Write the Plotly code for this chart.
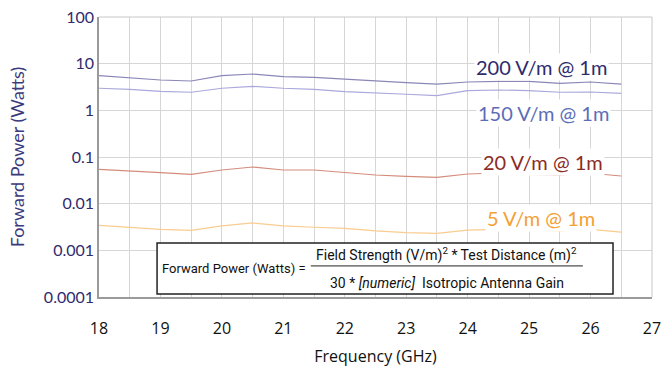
import math
import plotly.graph_objects as go

freq_ghz = [18, 18.5, 19, 19.5, 20, 20.5, 21, 21.5, 22, 22.5, 23, 23.5, 24, 24.5, 25, 25.5, 26, 26.5]

p_200 = [5.52, 5.0, 4.47, 4.25, 5.52, 6.0, 5.26, 5.1, 4.62, 4.25, 3.91, 3.66, 4.05, 4.19, 4.19, 3.79, 4.05, 3.66]
p_150 = [2.97, 2.82, 2.56, 2.44, 2.97, 3.27, 2.97, 2.82, 2.51, 2.32, 2.21, 2.06, 2.64, 2.73, 2.64, 2.44, 2.47, 2.32]
p_20 = [0.0545, 0.0509, 0.0461, 0.0426, 0.0527, 0.0611, 0.0527, 0.0527, 0.047, 0.0411, 0.0386, 0.0367, 0.0432, 0.0454, 0.0426, 0.0411, 0.0448, 0.0392]
p_5 = [0.00344, 0.00312, 0.00282, 0.00269, 0.00333, 0.00386, 0.00333, 0.00312, 0.00296, 0.0026, 0.0024, 0.0023, 0.0027, 0.0028, 0.00265, 0.0026, 0.0028, 0.00245]

series_names = ["200 V/m @ 1m", "150 V/m @ 1m", "20 V/m @ 1m", "5 V/m @ 1m"]
line_colors = ["#8a87b8", "#aaa8dc", "#d48c7c", "#f9cc90"]
label_colors = ["#2e2b6e", "#5c6db8", "#8c2b1f", "#f5a033"]

x_ticks = [18, 19, 20, 21, 22, 23, 24, 25, 26, 27]
y_tickvals = [0.0001, 0.001, 0.01, 0.1, 1, 10, 100]
y_ticktext = ["0.0001", "0.001", "0.01", "0.1", "1", "10", "100"]

fig = go.Figure()
for name, ys, c in zip(series_names, [p_200, p_150, p_20, p_5], line_colors):
    fig.add_trace(go.Scatter(x=freq_ghz, y=ys, mode="lines", name=name,
                             line=dict(color=c, width=1.2), showlegend=False))

# series labels (placed in data coordinates near the right end)
label_pos = [(25.2, 8.5), (25.23, 0.877), (25.23, 0.078), (25.2, 0.0049)]
for name, (lx, ly), c in zip(series_names, label_pos, label_colors):
    fig.add_annotation(x=lx, y=math.log10(ly), xref="x", yref="y", text=name, showarrow=False,
                       xanchor="center", yanchor="middle",
                       font=dict(family="Lato", size=20, color=c),
                       bgcolor="white", borderpad=1)

# formula box
fig.add_shape(type="rect", xref="paper", yref="paper", x0=0.105, x1=0.9295, y0=0.011, y1=0.193,
              line=dict(color="#222", width=1.5), fillcolor="white", layer="above")
fig.add_shape(type="line", xref="paper", yref="paper", x0=0.383, x1=0.875, y0=0.111, y1=0.111,
              line=dict(color="#222", width=1))
ffont = dict(family="Roboto", size=14, color="#111")
fig.add_annotation(xref="paper", yref="paper", x=0.244, y=0.103, text="Forward Power (Watts) =",
                   xanchor="center", yanchor="middle", showarrow=False,
                   font=dict(family="Roboto", size=13, color="#111"))
fig.add_annotation(xref="paper", yref="paper", x=0.629, y=0.152,
                   text="Field Strength (V/m)<sup>2</sup> * Test Distance (m)<sup>2</sup>",
                   xanchor="center", yanchor="middle", showarrow=False, font=ffont)
fig.add_annotation(xref="paper", yref="paper", x=0.629, y=0.05,
                   text="30 * <i>[numeric]</i>  Isotropic Antenna Gain",
                   xanchor="center", yanchor="middle", showarrow=False, font=ffont)

fig.update_layout(
    width=663, height=377,
    margin=dict(l=99, r=11, t=17, b=80),
    plot_bgcolor="white", paper_bgcolor="white",
    xaxis=dict(range=[18, 27], tickvals=x_ticks, showgrid=True, gridcolor="#d6d6d6", gridwidth=1,
               minor=dict(dtick=0.5, showgrid=True, gridcolor="#d6d6d6", gridwidth=1),
               showline=True, linecolor="#9a9a9a", linewidth=1.5, ticks="", zeroline=False,
               automargin=False, ticklabeloverflow="allow",
               tickfont=dict(family="Open Sans", size=16, color="#111"), ticklabelstandoff=16,
               title=dict(text="Frequency (GHz)", font=dict(family="Open Sans", size=16, color="#111"), standoff=13)),
    yaxis=dict(type="log", range=[-4, 2], tickvals=y_tickvals, ticktext=y_ticktext,
               showgrid=True, gridcolor="#d6d6d6", gridwidth=1,
               showline=True, linecolor="#9a9a9a", linewidth=1.5, ticks="", zeroline=False,
               automargin=False, ticklabeloverflow="allow",
               tickfont=dict(family="Lato", size=16, color="#2f2c6e"), ticklabelstandoff=0,
               title=dict(text="Forward Power (Watts)", font=dict(family="Lato", size=18, color="#3b3a7c"), standoff=15)),
)
fig.add_shape(type="line", xref="paper", yref="paper", x0=1, x1=1, y0=0, y1=1,
              line=dict(color="#c8c8c8", width=1))
fig.add_shape(type="line", xref="paper", yref="paper", x0=0, x1=1, y0=1, y1=1,
              line=dict(color="#c8c8c8", width=1))

fig.write_html("out.html", config={"displayModeBar": False},
               post_script="document.body.style.margin='0';document.body.style.overflow='hidden';")
